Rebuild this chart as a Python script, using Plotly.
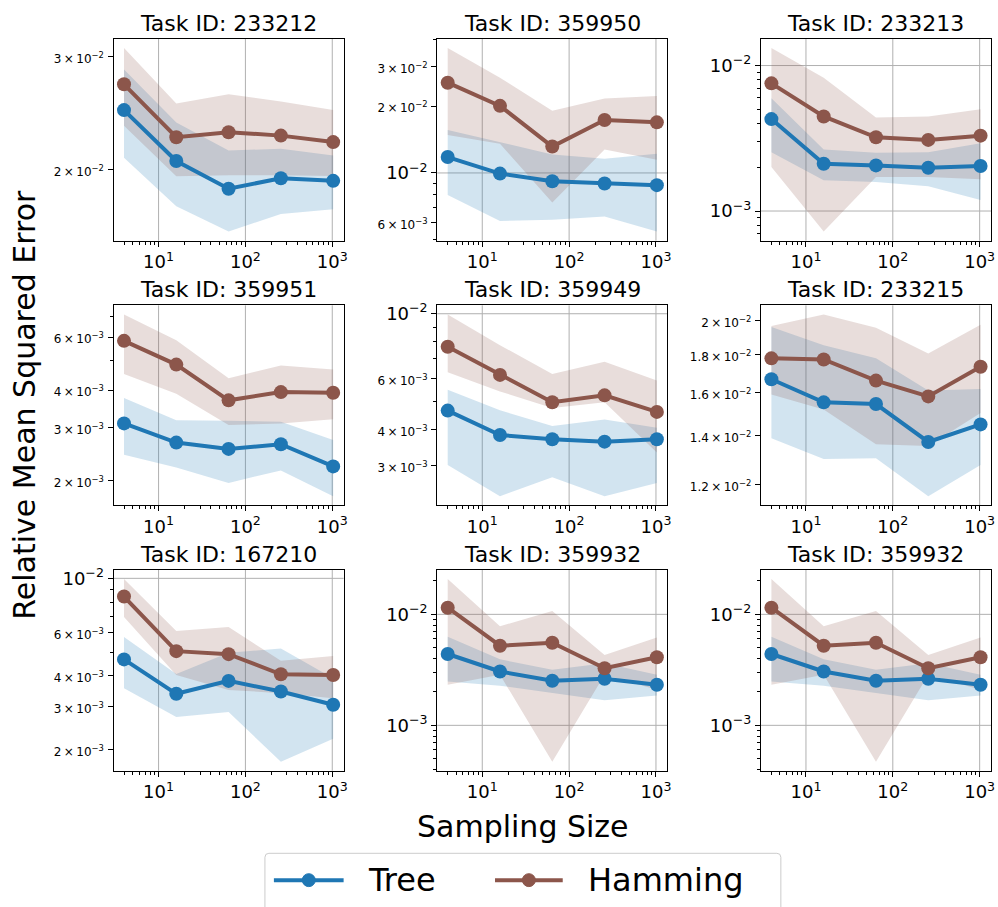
import math
import plotly.graph_objects as go

# ---------------- data ----------------
sampling_sizes = [4, 16, 64, 256, 1024]

task_ids = ["233212", "359950", "233213",
            "359951", "359949", "233215",
            "167210", "359932", "359932"]

tree_mean = [
    [0.02477, 0.02063, 0.01867, 0.01939, 0.01921],
    [0.01179, 0.00993, 0.00918, 0.00896, 0.00881],
    [0.004284, 0.002113, 0.002059, 0.001985, 0.002037],
    [0.003101, 0.002678, 0.002552, 0.002644, 0.002233],
    [0.004645, 0.003828, 0.003700, 0.003632, 0.003700],
    [0.01667, 0.01551, 0.01543, 0.01371, 0.01448],
    [0.004666, 0.003376, 0.003812, 0.003450, 0.003047],
    [0.004394, 0.003056, 0.002522, 0.002628, 0.002323],
    [0.004394, 0.003056, 0.002522, 0.002628, 0.002323],
]
tree_low = [
    [0.02087, 0.01754, 0.01601, 0.01705, 0.01734],
    [0.00795, 0.00608, 0.00615, 0.00636, 0.00545],
    [0.002539, 0.001627, 0.001585, 0.001481, 0.001189],
    [0.002439, 0.002216, 0.001968, 0.002166, 0.001779],
    [0.003017, 0.002359, 0.002738, 0.002359, 0.002620],
    [0.01387, 0.01300, 0.01303, 0.01158, 0.01276],
    [0.003558, 0.002715, 0.002844, 0.001784, 0.002211],
    [0.002487, 0.002276, 0.001957, 0.001684, 0.001853],
    [0.002487, 0.002276, 0.001957, 0.001684, 0.001853],
]
tree_high = [
    [0.02867, 0.02370, 0.02142, 0.02156, 0.02104],
    [0.01562, 0.01375, 0.01211, 0.01159, 0.01220],
    [0.005957, 0.002647, 0.002512, 0.002539, 0.002922],
    [0.003765, 0.003179, 0.003163, 0.003139, 0.002732],
    [0.005478, 0.004657, 0.004108, 0.004329, 0.004055],
    [0.01962, 0.01853, 0.01779, 0.01610, 0.01617],
    [0.005765, 0.004069, 0.004966, 0.005169, 0.003908],
    [0.006277, 0.003939, 0.003162, 0.003628, 0.002853],
    [0.006277, 0.003939, 0.003162, 0.003628, 0.002853],
]
ham_mean = [
    [0.02718, 0.02247, 0.02288, 0.02260, 0.02208],
    [0.02548, 0.02004, 0.01315, 0.01730, 0.01689],
    [0.007540, 0.004467, 0.003212, 0.003081, 0.003297],
    [0.005828, 0.004860, 0.003699, 0.003939, 0.003919],
    [0.007697, 0.006163, 0.004961, 0.005240, 0.004597],
    [0.01779, 0.01773, 0.01660, 0.01580, 0.01733],
    [0.008427, 0.005043, 0.004903, 0.004056, 0.004031],
    [0.01147, 0.005214, 0.005546, 0.003272, 0.004102],
    [0.01147, 0.005214, 0.005546, 0.003272, 0.004102],
]
ham_low = [
    [0.02342, 0.01953, 0.01960, 0.01960, 0.01955],
    [0.01483, 0.01352, 0.00737, 0.01275, 0.01147],
    [0.002006, 0.000723, 0.001714, 0.001714, 0.001653],
    [0.004527, 0.003890, 0.003061, 0.003101, 0.003203],
    [0.006294, 0.005408, 0.004743, 0.004961, 0.003333],
    [0.01589, 0.01517, 0.01361, 0.01354, 0.01501],
    [0.006950, 0.004031, 0.003503, 0.003396, 0.003241],
    [0.002323, 0.002853, 0.000471, 0.002853, 0.002096],
    [0.002323, 0.002853, 0.000471, 0.002853, 0.002096],
]
ham_high = [
    [0.03097, 0.02537, 0.02623, 0.02555, 0.02477],
    [0.03651, 0.02683, 0.01905, 0.02161, 0.02222],
    [0.01320, 0.008240, 0.004396, 0.004467, 0.005012],
    [0.007131, 0.005857, 0.004381, 0.004823, 0.004679],
    [0.009947, 0.007798, 0.006212, 0.006843, 0.005895],
    [0.01967, 0.02040, 0.01957, 0.01806, 0.01975],
    [0.009938, 0.006097, 0.006329, 0.004608, 0.004813],
    [0.02082, 0.007815, 0.01071, 0.004305, 0.006191],
    [0.02082, 0.007815, 0.01071, 0.004305, 0.006191],
]

# labelled y ticks per panel
y_label_ticks = [
    [0.02, 0.03],
    [0.006, 0.01, 0.02, 0.03],
    [0.001, 0.01],
    [0.002, 0.003, 0.004, 0.006],
    [0.003, 0.004, 0.006, 0.01],
    [0.012, 0.014, 0.016, 0.018, 0.02],
    [0.002, 0.003, 0.004, 0.006, 0.01],
    [0.001, 0.01],
    [0.001, 0.01],
]
# panels whose minor ticks are linear (no extra log minor ticks)
linear_minor_panels = [5]

x_major_ticks = [10, 100, 1000]
x_tick_labels = ["10<sup>1</sup>", "10<sup>2</sup>", "10<sup>3</sup>"]

series_names = ["Tree", "Hamming"]

# ---------------- style ----------------
TREE = "#1f77b4"
HAM = "#8c564b"
TREE_FILL = "rgba(31,119,180,0.2)"
HAM_FILL = "rgba(140,86,75,0.2)"
GRID = "#b0b0b0"
W, H = 998, 907
col_px = [(114, 345), (439, 670), (764, 995)]
row_px = [(34, 237), (302, 503), (568, 770)]


def px(xp):
    return xp / W


def py(yp):
    return 1 - yp / H


def fmt_tick(v):
    e = math.floor(math.log10(v) + 1e-9)
    m = v / 10 ** e
    exp = "<sup>\u2212%d</sup>" % (-e) if e < 0 else "<sup>%d</sup>" % e
    if abs(m - 1) < 1e-6:
        return "10" + exp
    ms = ("%.1f" % m).rstrip("0").rstrip(".")
    return '<span style="font-size:12px">%s\u2009\u00d7\u200910%s</span>' % (ms, exp)


def log_range(lo, hi):
    a, b = math.log10(lo), math.log10(hi)
    pad = 0.05 * (b - a)
    return [a - pad, b + pad]


fig = go.Figure()
shapes = []
annotations = []
layout = {}

xr = log_range(min(sampling_sizes), max(sampling_sizes))
x_minor = [m * 10 ** k for k in range(0, 4) for m in range(2, 10)
           if xr[0] <= math.log10(m * 10 ** k) <= xr[1]]

for i in range(9):
    r, c = divmod(i, 3)
    sfx = "" if i == 0 else str(i + 1)
    xa, ya = "x" + sfx, "y" + sfx
    x0, x1 = col_px[c]
    y0, y1 = row_px[r]
    xdom = [px(x0), px(x1)]
    ydom = [py(y1), py(y0)]

    allv = tree_low[i] + tree_high[i] + ham_low[i] + ham_high[i] + tree_mean[i] + ham_mean[i]
    yr = log_range(min(allv), max(allv))

    # bands
    for lo, hi, fc in [(tree_low[i], tree_high[i], TREE_FILL), (ham_low[i], ham_high[i], HAM_FILL)]:
        fig.add_trace(go.Scatter(
            x=sampling_sizes + sampling_sizes[::-1], y=hi + lo[::-1],
            fill="toself", fillcolor=fc, mode="lines", line=dict(width=0),
            hoverinfo="skip", showlegend=False, xaxis=xa, yaxis=ya))
    # lines
    for name, mean, col in [(series_names[0], tree_mean[i], TREE), (series_names[1], ham_mean[i], HAM)]:
        fig.add_trace(go.Scatter(
            x=sampling_sizes, y=mean, mode="lines+markers", name=name,
            line=dict(color=col, width=4), marker=dict(color=col, size=14),
            showlegend=False, legendgroup=name, xaxis=xa, yaxis=ya))

    labelled = [v for v in y_label_ticks[i] if yr[0] <= math.log10(v) <= yr[1]]
    if i in linear_minor_panels:
        y_minor = []
    else:
        y_minor = [m * 10 ** k for k in range(-5, 0) for m in range(2, 10)
                   if yr[0] <= math.log10(m * 10 ** k) <= yr[1]
                   and not any(abs(m * 10 ** k - v) < 1e-9 for v in labelled)]
    decades = [10.0 ** k for k in range(-5, 0) if yr[0] <= k <= yr[1]]

    layout["xaxis" + sfx] = dict(
        type="log", range=xr, domain=xdom, anchor=ya,
        tickmode="array", tickvals=x_major_ticks, ticktext=x_tick_labels,
        tickfont=dict(size=18, color="black"), ticks="outside", ticklen=5,
        tickcolor="black", showline=True, mirror=True, linecolor="black",
        linewidth=1, showgrid=False, zeroline=False, ticklabeloverflow="allow",
        minor=dict(tickmode="array", tickvals=x_minor, ticks="outside",
                   ticklen=3, tickcolor="black", showgrid=False))
    layout["yaxis" + sfx] = dict(
        type="log", range=yr, domain=ydom, anchor=xa,
        tickmode="array", tickvals=labelled, ticktext=[fmt_tick(v) for v in labelled],
        tickfont=dict(size=18, color="black"), ticks="outside", ticklen=5,
        tickcolor="black", showline=True, mirror=True, linecolor="black",
        linewidth=1, showgrid=False, zeroline=False,
        minor=dict(tickmode="array", tickvals=y_minor, ticks="outside",
                   ticklen=3, tickcolor="black", showgrid=False))

    for xv in x_major_ticks:
        shapes.append(dict(type="line", xref=xa, yref=ya + " domain", x0=xv, x1=xv,
                           y0=0, y1=1, line=dict(color=GRID, width=1), layer="below"))
    for yv in decades:
        shapes.append(dict(type="line", xref=xa + " domain", yref=ya, x0=0, x1=1,
                           y0=yv, y1=yv, line=dict(color=GRID, width=1), layer="below"))

    annotations.append(dict(text="Task ID: " + task_ids[i], x=px((x0 + x1) / 2),
                            y=ydom[1], xref="paper", yref="paper", xanchor="center",
                            yanchor="bottom", showarrow=False, yshift=1,
                            font=dict(size=22, color="black")))

annotations.append(dict(text="Relative Mean Squared Error", x=px(25), y=py(402),
                        xref="paper", yref="paper", textangle=-90, showarrow=False,
                        xanchor="center", yanchor="middle",
                        font=dict(size=30, color="black")))
annotations.append(dict(text="Sampling Size", x=px(525), y=py(826),
                        xref="paper", yref="paper", showarrow=False,
                        xanchor="center", yanchor="middle",
                        font=dict(size=30, color="black")))

# ---------------- legend (drawn as decoration) ----------------
lx0, lx1, ly0, ly1, rad = 266, 784, 853, 930, 4
box_path = ("M {a},{b} L {c},{b} Q {d},{b} {d},{e} L {d},{f} L {g},{f} L {g},{e} Q {g},{b} {a},{b} Z"
            .format(a=px(lx0 + rad), b=py(ly0), c=px(lx1 - rad), d=px(lx1),
                    e=py(ly0 + rad), f=py(ly1), g=px(lx0)))
shapes.append(dict(type="path", path=box_path, xref="paper", yref="paper",
                   line=dict(color="#cccccc", width=1), fillcolor="rgba(255,255,255,0.8)",
                   layer="above"))
leg_y = 880
for (ls, le, tx), col, name in [((275, 345, 367), TREE, series_names[0]),
                                ((497, 565, 588), HAM, series_names[1])]:
    shapes.append(dict(type="line", xref="paper", yref="paper", x0=px(ls), x1=px(le),
                       y0=py(leg_y), y1=py(leg_y), line=dict(color=col, width=4),
                       layer="above"))
    mc = (ls + le) / 2
    shapes.append(dict(type="circle", xref="paper", yref="paper",
                       x0=px(mc - 6.5), x1=px(mc + 6.5), y0=py(leg_y + 6.5), y1=py(leg_y - 6.5),
                       line=dict(color=col, width=1), fillcolor=col, layer="above"))
    annotations.append(dict(text=name, x=px(tx), y=py(leg_y), xref="paper", yref="paper",
                            xanchor="left", yanchor="middle", showarrow=False,
                            font=dict(size=32, color="black")))

fig.update_layout(
    width=W, height=H,
    margin=dict(l=0, r=0, t=0, b=0),
    paper_bgcolor="white", plot_bgcolor="white",
    font=dict(family="DejaVu Sans", color="black"),
    showlegend=False,
    shapes=shapes, annotations=annotations,
    **layout)

fig.write_html("out.html", config={"displayModeBar": False},
               post_script="document.body.style.margin='0';document.body.style.overflow='hidden';")
